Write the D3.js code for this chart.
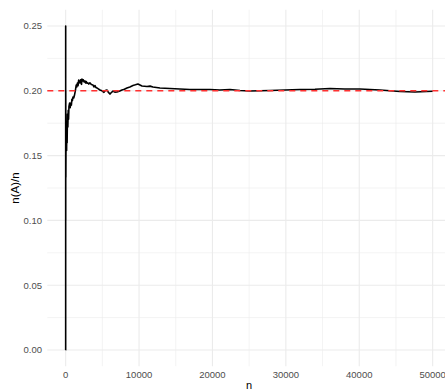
<!DOCTYPE html>
<html>
<head>
<meta charset="utf-8">
<script src="https://cdn.jsdelivr.net/npm/d3@7"></script>
<style>
  body { margin: 0; background: #fff; }
  text { font-family: "Liberation Sans", Arial, sans-serif; }
</style>
</head>
<body>
<div id="chart"></div>
<script>
// trial counts and running proportion n(A)/n
var trials = [1, 2, 3, 4, 5, 6, 7, 8, 9, 10, 12, 15, 20, 30, 40, 50, 70, 100, 130, 160, 200, 250, 300, 350, 400, 450,
    545, 620, 700, 780, 850, 920, 995, 1100, 1200, 1320, 1444, 1520, 1600, 1690, 1771, 1850, 1948, 2030, 2100, 2160, 2221,
    2300, 2400, 2520, 2630, 2720, 2800, 2920, 3038, 3150, 3300, 3500, 3719, 3850, 4000, 4130, 4264, 4450, 4673,
    4950, 5218, 5400, 5627, 5800, 6035, 6200, 6444, 6700, 6989, 7300, 7670, 8000, 8351, 8750, 9169, 9500, 9850,
    10395, 11076, 11500, 11894, 12848, 14210, 15573, 16935,
    18298, 19660, 21000, 22385, 23748, 25110, 26500, 27835, 29878, 31922, 33966, 36009, 38000, 40097, 42821, 45546, 47590, 50000];
var share = [0, 0, 0, 0.25, 0.2, 0.1667, 0.1429, 0.125, 0.1111, 0.1, 0.1667, 0.2, 0.15, 0.1333, 0.15, 0.16, 0.157, 0.17, 0.154, 0.175, 0.16, 0.182, 0.172, 0.185, 0.178, 0.188,
    0.1906, 0.1870, 0.1905, 0.1890, 0.1935, 0.1925, 0.1952, 0.1945, 0.1965, 0.2000, 0.2045, 0.2030, 0.2060, 0.2040, 0.2083, 0.2065, 0.2060, 0.2085, 0.2070, 0.2050, 0.2091,
    0.2075, 0.2085, 0.2068, 0.2076, 0.2060, 0.2072, 0.2058, 0.2060, 0.2052, 0.2062, 0.2048, 0.2045, 0.2030, 0.2040, 0.2025, 0.2022, 0.2015, 0.2006,
    0.2000, 0.1988, 0.2002, 0.2006, 0.1990, 0.1975, 0.1985, 0.1998, 0.1990, 0.1991, 0.1996, 0.2006, 0.2012, 0.2022, 0.2030, 0.2041, 0.2046, 0.2052,
    0.2037, 0.2033, 0.2036, 0.2029, 0.2022, 0.2018, 0.2014, 0.2010,
    0.2010, 0.2010, 0.2006, 0.2010, 0.2002, 0.1998, 0.2000, 0.2002, 0.2006, 0.2010, 0.2012, 0.2018, 0.2014, 0.2014, 0.2006, 0.1995, 0.1991, 0.1996];
var target = 0.2;
var xTicks = [0, 10000, 20000, 30000, 40000, 50000];
var yTicks = [0, 0.05, 0.10, 0.15, 0.20, 0.25];

var width = 445, height = 391;
var panel = {left: 47.3, right: 451, top: 9.8, bottom: 366.2};

var svg = d3.select("#chart")
    .append("svg")
    .attr("width", width)
    .attr("height", height);

var x = d3.scaleLinear()
    .domain([-2499.95, 52499.95])
    .range([panel.left, panel.right]);

var y = d3.scaleLinear()
    .domain([-0.0125, 0.2625])
    .range([panel.bottom, panel.top]);

// grid lines (minor first, then major)
var xMinor = d3.range(-5000, 55001, 10000).filter(d => x(d) > panel.left && x(d) < panel.right);
var yMinor = d3.range(0.025, 0.26, 0.05);

svg.append("g").selectAll("line")
    .data(xMinor)
    .enter().append("line")
    .attr("x1", d => x(d)).attr("x2", d => x(d))
    .attr("y1", panel.top).attr("y2", panel.bottom)
    .attr("stroke", "#ebebeb").attr("stroke-width", 0.6);

svg.append("g").selectAll("line")
    .data(yMinor)
    .enter().append("line")
    .attr("x1", panel.left).attr("x2", panel.right)
    .attr("y1", d => y(d)).attr("y2", d => y(d))
    .attr("stroke", "#ebebeb").attr("stroke-width", 0.6);

svg.append("g").selectAll("line")
    .data(xTicks)
    .enter().append("line")
    .attr("x1", d => x(d)).attr("x2", d => x(d))
    .attr("y1", panel.top).attr("y2", panel.bottom)
    .attr("stroke", "#ebebeb").attr("stroke-width", 1.1);

svg.append("g").selectAll("line")
    .data(yTicks)
    .enter().append("line")
    .attr("x1", panel.left).attr("x2", panel.right)
    .attr("y1", d => y(d)).attr("y2", d => y(d))
    .attr("stroke", "#ebebeb").attr("stroke-width", 1.1);

// running proportion
var points = trials.map((n, i) => [n, share[i]]);
var line = d3.line()
    .x(d => x(d[0]))
    .y(d => y(d[1]));

svg.append("path")
    .datum(points)
    .attr("d", line)
    .attr("fill", "none")
    .attr("stroke", "#000")
    .attr("stroke-width", 1.6)
    .attr("stroke-linejoin", "round");

// reference line at p = 0.2
svg.append("line")
    .attr("x1", panel.left).attr("x2", panel.right)
    .attr("y1", y(target)).attr("y2", y(target))
    .attr("stroke", "#ff3030")
    .attr("stroke-width", 1.5)
    .attr("stroke-dasharray", "6,5");

// tick labels
svg.append("g").selectAll("text")
    .data(yTicks)
    .enter().append("text")
    .attr("x", 42)
    .attr("y", d => y(d))
    .attr("dy", "0.35em")
    .attr("text-anchor", "end")
    .attr("font-size", "9.5px")
    .attr("fill", "#4d4d4d")
    .text(d => d3.format(".2f")(d));

svg.append("g").selectAll("text")
    .data(xTicks)
    .enter().append("text")
    .attr("x", d => x(d))
    .attr("y", 375)
    .attr("dy", "0.35em")
    .attr("text-anchor", "middle")
    .attr("font-size", "9.5px")
    .attr("fill", "#4d4d4d")
    .text(d => d);

// axis titles
svg.append("text")
    .attr("x", (panel.left + panel.right) / 2)
    .attr("y", 389)
    .attr("text-anchor", "middle")
    .attr("font-size", "11px")
    .attr("fill", "#000")
    .text("n");

svg.append("text")
    .attr("transform", "translate(19," + ((panel.top + panel.bottom) / 2) + ") rotate(-90)")
    .attr("text-anchor", "middle")
    .attr("font-size", "11.5px")
    .attr("fill", "#000")
    .text("n(A)/n");
</script>
</body>
</html>
